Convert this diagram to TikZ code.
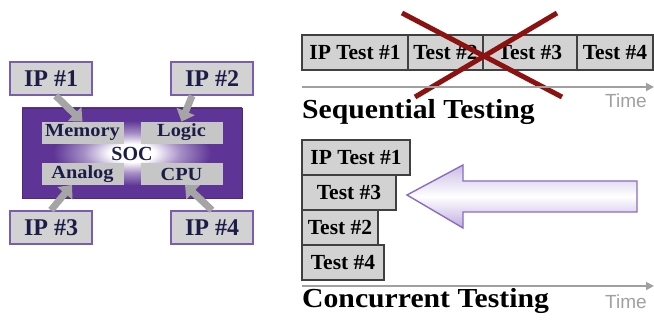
\documentclass[tikz,border=0pt]{standalone}
\usepackage{fontspec}
\setmainfont{Liberation Serif}
\newfontfamily\widefont[FakeStretch=1.1]{Liberation Serif}
\newfontfamily\titlefont[FakeStretch=1.08]{Liberation Serif}
\newfontfamily\axisfont{Liberation Sans}
\usetikzlibrary{arrows.meta}

\definecolor{socpurple}{RGB}{94,52,150}
\definecolor{ipborder}{RGB}{122,92,176}
\definecolor{boxgray}{RGB}{210,210,210}
\definecolor{blockgray}{RGB}{198,198,198}
\definecolor{navytext}{RGB}{28,28,72}
\definecolor{linkgray}{RGB}{165,165,165}
\definecolor{axisgray}{RGB}{160,160,160}
\definecolor{crossred}{RGB}{140,18,18}
\definecolor{arrowline}{RGB}{138,108,192}
\definecolor{arrowlav}{RGB}{190,172,222}

\pgfdeclareradialshading{socglow}{\pgfpoint{0bp}{0bp}}{%
  color(0bp)=(white); color(5bp)=(white); color(11bp)=(socpurple!55); color(18bp)=(socpurple); color(50bp)=(socpurple)}

\tikzset{
  ipbox/.style={draw=ipborder, line width=1.6pt, fill=boxgray, inner sep=0pt,
    minimum width=82pt, minimum height=33pt, text=navytext,
    font=\fontsize{24}{24}\selectfont\bfseries},
  blockbox/.style={draw=black!22, line width=0.8pt, fill=blockgray, inner sep=0pt,
    minimum width=81pt, minimum height=21pt, text=navytext,
    font=\widefont\fontsize{18.5}{18.5}\selectfont\bfseries},
  testbox/.style={draw=black!75, line width=1.1pt, fill=boxgray, inner sep=0pt,
    minimum height=35pt, font=\fontsize{21.5}{21.5}\selectfont\bfseries},
  link/.style={draw=linkgray, line width=7pt,
    -{Triangle[width=19pt,length=11pt]}},
  timeaxis/.style={draw=axisgray, line width=1.8pt, -{Triangle[width=8pt,length=8pt]}},
  timelabel/.style={text=axisgray, font=\axisfont\fontsize{19}{19}\selectfont},
  heading/.style={anchor=west, inner sep=0pt, font=\titlefont\fontsize{27.5}{27.5}\selectfont\bfseries},
  cross/.style={draw=crossred, line width=5pt}
}

\begin{document}
\begin{tikzpicture}[x=1pt, y=-1pt]
\useasboundingbox (0,0) rectangle (654,320);

% ---------------- system on chip ----------------
\node[draw=socpurple!80!black, line width=0.8pt, shading=socglow,
      minimum width=220pt, minimum height=90pt, inner sep=0pt] (soc) at (132,153) {};

\node[ipbox] (ip1) at (51,78.5) {IP \#1};
\node[ipbox] (ip2) at (212,78.5) {IP \#2};
\node[ipbox] (ip3) at (51,227.5) {IP \#3};
\node[ipbox] (ip4) at (212,227.5) {IP \#4};

\node[blockbox] (mem) at (82.5,132.5) {Memory};
\node[blockbox] (logic) at (181.5,132.5) {Logic};
\node[blockbox] (analog) at (82.5,174) {Analog};
\node[blockbox] (cpu) at (181.5,174) {CPU};

\node[text=navytext, inner sep=0pt, font=\fontsize{20}{20}\selectfont\bfseries] (soclabel) at (132,154) {SOC};

\draw[link] (ip1.-75) -- (mem.north);
\draw[link] (ip2.-139) -- (logic.north);
\draw[link] (ip3.north) -- (analog.-134);
\draw[link] (ip4.north) -- (cpu.-72);

% ---------------- sequential testing ----------------
\node[testbox, minimum width=106pt] (s1) at (355,52.5) {IP Test \#1};
\node[testbox, minimum width=75pt] (s2) at (445.5,52.5) {Test \#2};
\node[testbox, minimum width=94pt] (s3) at (530,52.5) {Test \#3};
\node[testbox, minimum width=76pt] (s4) at (615,52.5) {Test \#4};

\coordinate (xa1) at (402,13);
\coordinate (xa2) at (562,97);
\coordinate (xb1) at (557,13);
\coordinate (xb2) at (415,97);
\draw[cross] (xa1) -- (xa2);
\draw[cross] (xb1) -- (xb2);

\coordinate (seqstart) at (302,87);
\coordinate (seqend) at (654,87);
\draw[timeaxis] (seqstart) -- (seqend);
\node[timelabel] (seqtime) at (626,101) {Time};
\node[heading] (seqtitle) at (302,112) {Sequential Testing};

% ---------------- concurrent testing ----------------
\node[testbox, minimum width=108pt] (c1) at (356,157.5) {IP Test \#1};
\node[testbox, minimum width=94pt] (c3) at (349,192.5) {Test \#3};
\node[testbox, minimum width=76pt] (c2) at (340,227.5) {Test \#2};
\node[testbox, minimum width=82pt] (c4) at (343,262.5) {Test \#4};

% block arrow pointing at the stacked tests
\draw[draw=arrowline, line width=1.4pt, line join=miter,
      top color=arrowlav!80, bottom color=arrowlav, middle color=white]
  (407,195) -- (463,165) -- (463,181) -- (637,181) -- (637,212)
  -- (463,212) -- (463,228) -- cycle;

\coordinate (constart) at (302,286);
\coordinate (conend) at (654,286);
\draw[timeaxis] (constart) -- (conend);
\node[timelabel] (contime) at (626,302) {Time};
\node[heading] (context) at (302,301) {Concurrent Testing};
\end{tikzpicture}
\end{document}
